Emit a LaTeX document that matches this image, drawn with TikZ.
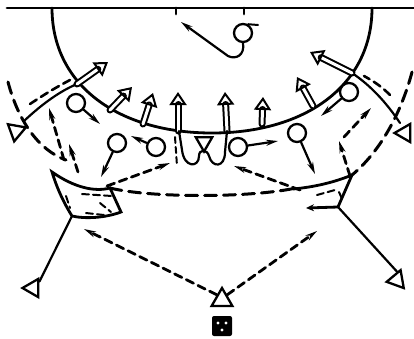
\documentclass[tikz,border=0pt]{standalone}
\usetikzlibrary{arrows.meta,shapes.geometric,calc}

\begin{document}
\begin{tikzpicture}[
  x=1pt,y=-1pt,
  line cap=round,
  court/.style={line width=2.8pt},
  player/.style={circle,draw,line width=2.3pt,minimum size=18pt,inner sep=0pt,fill=white},
  attacker/.style={draw,line width=2.3pt,regular polygon,regular polygon sides=3,minimum size=21pt,inner sep=0pt},
  run/.style={line width=2.2pt,-{Stealth[length=12pt,width=6pt]}},
  pass/.style={line width=2.8pt,dash pattern=on 8pt off 5pt,-{Stealth[length=12pt,width=6pt]}},
  longdash/.style={line width=3pt,dash pattern=on 12pt off 7pt},
  hollow/.style={double=white,double distance=3pt,line width=2pt,-{Triangle[open,length=13pt,width=17pt]}}
]
\useasboundingbox (0,0) rectangle (414,338);

% court
\draw[court] (7,8) -- (414,8);
\draw[court] (176,8) -- (176,14) (244,8) -- (244,14);
\draw[court] (52,8) .. controls (52,85) and (118,133) .. (212,133)
             .. controls (306,133) and (372,85) .. (372,8);

% outer dashed arcs
\draw[longdash] (8,82) .. controls (18,120) and (38,150) .. (66,160);
\draw[longdash] (412,72) .. controls (402,110) and (382,150) .. (352,175);

% players
\node[player] (p0) at (243,33) {};
\node[player] (p1) at (76,103) {};
\node[player] (p2) at (117,143) {};
\node[player] (p3) at (156,147) {};
\node[player] (p4) at (238,147) {};
\node[player] (p5) at (297,133) {};
\node[player] (p6) at (349,92) {};

\node[attacker,shape border rotate=170] (a1) at (16,131) {};
\node[attacker,shape border rotate=-30] (a2) at (405,133) {};
\node[attacker,shape border rotate=180,minimum size=19pt] (a3) at (204,142) {};
\node[attacker,shape border rotate=90] (a4) at (33,288) {};
\node[attacker,shape border rotate=-20] (a5) at (397,280) {};
\node[attacker,minimum size=24pt] (a6) at (222,300) {};

% ball
\node[fill=black,rounded corners=2pt,minimum size=20pt,inner sep=0pt] (ball) at (222,326) {};
\fill[white] ($(ball)+(-4,-3)$) circle (1.7pt) ($(ball)+(4,-3)$) circle (1.7pt) ($(ball)+(0,4)$) circle (1.7pt);

% coordinates for the free ends
\coordinate (c0) at (181,22);
\coordinate (c1) at (100,124);
\coordinate (c2) at (101,177);
\coordinate (c3) at (131,136);
\coordinate (c4) at (278,141);
\coordinate (c5) at (315,174);
\coordinate (c6) at (321,116);
\coordinate (wl) at (77,84);
\coordinate (wr) at (352,73);

% top player
\draw[run] (p0.south) .. controls (245,55) and (236,60) .. (228,56) -- (c0);
\draw[line width=2pt] (p0.60) -- (258,25);

% wing runs
\draw[line width=2.2pt] (24,121) .. controls (40,106) and (58,92) .. (wl);
\draw[line width=2.2pt] (400,123) .. controls (386,102) and (370,85) .. (wr);
\draw[line width=2.6pt,dash pattern=on 8pt off 5pt] (30,104) .. controls (45,94) and (55,88) .. (70,80);
\draw[line width=2.6pt,dash pattern=on 8pt off 5pt] (390,95) .. controls (382,87) and (375,82) .. (364,76);

% breaks over the line
\draw[hollow] (wl) -- (108,62);
\draw[hollow] (110,110) -- (132,87);
\draw[hollow] (143,124) -- (153,93);
\draw[hollow] (178,131) -- (178,92);
\draw[hollow] (227,131) -- (225,92);
\draw[hollow] (262,124) -- (263,97);
\draw[hollow] (313,106) -- (297,77);
\draw[hollow] (wr) -- (310,52);

% players' moves
\draw[run] (p1) -- (c1);
\draw[run] (p2) -- (c2);
\draw[run] (p3) -- (c3);
\draw[run] (p4) -- (c4);
\draw[run] (p5) -- (c5);
\draw[run] (p6) -- (c6);

% loops under the line
\draw[line width=2.2pt] (179,131) -- (182,150) .. controls (184,168) and (199,168) .. (199,156)
  .. controls (199,149) and (207,149) .. (209,156) .. controls (212,168) and (225,168) .. (225,152) -- (227,131);
\draw[line width=2pt,dash pattern=on 6pt off 4pt] (175,137) -- (177,166);

% screens
\draw[court] (52,172) .. controls (75,188) and (95,192) .. (110,188) -- (121,212)
  .. controls (105,218) and (85,219) .. (72,216) .. controls (62,200) and (56,185) .. (52,172) -- cycle;
\draw[court,-{Stealth[length=8pt,width=7pt]}] (293,189) .. controls (315,187) and (335,182) .. (352,175)
  -- (338,207) -- (306,208);
\draw[line width=2pt,dash pattern=on 7pt off 4pt] (66,196) -- (70,208) (82,194) -- (112,196)
  (86,213) -- (104,215) (100,203) -- (111,212);
\draw[line width=2pt,dash pattern=on 7pt off 4pt] (317,195) -- (335,190) (339,192) -- (343,201);

% passes
\draw[pass] (64,160) -- (49,108);
\draw[pass] (78,172) -- (69,144);
\draw[pass] (107,186) -- (170,163);
\draw[longdash] (110,188) .. controls (150,198) and (250,198) .. (296,188);
\draw[pass] (300,190) -- (234,166);
\draw[pass] (350,176) -- (339,141);
\draw[pass] (344,137) -- (371,108);
\draw[pass] (a6.north west) -- (84,229);
\draw[pass] (a6.north east) -- (317,231);

% back players
\draw[line width=2.2pt] (72,216) -- (a4.north east);
\draw[line width=2.2pt] (338,207) -- (a5.north);
\end{tikzpicture}
\end{document}
